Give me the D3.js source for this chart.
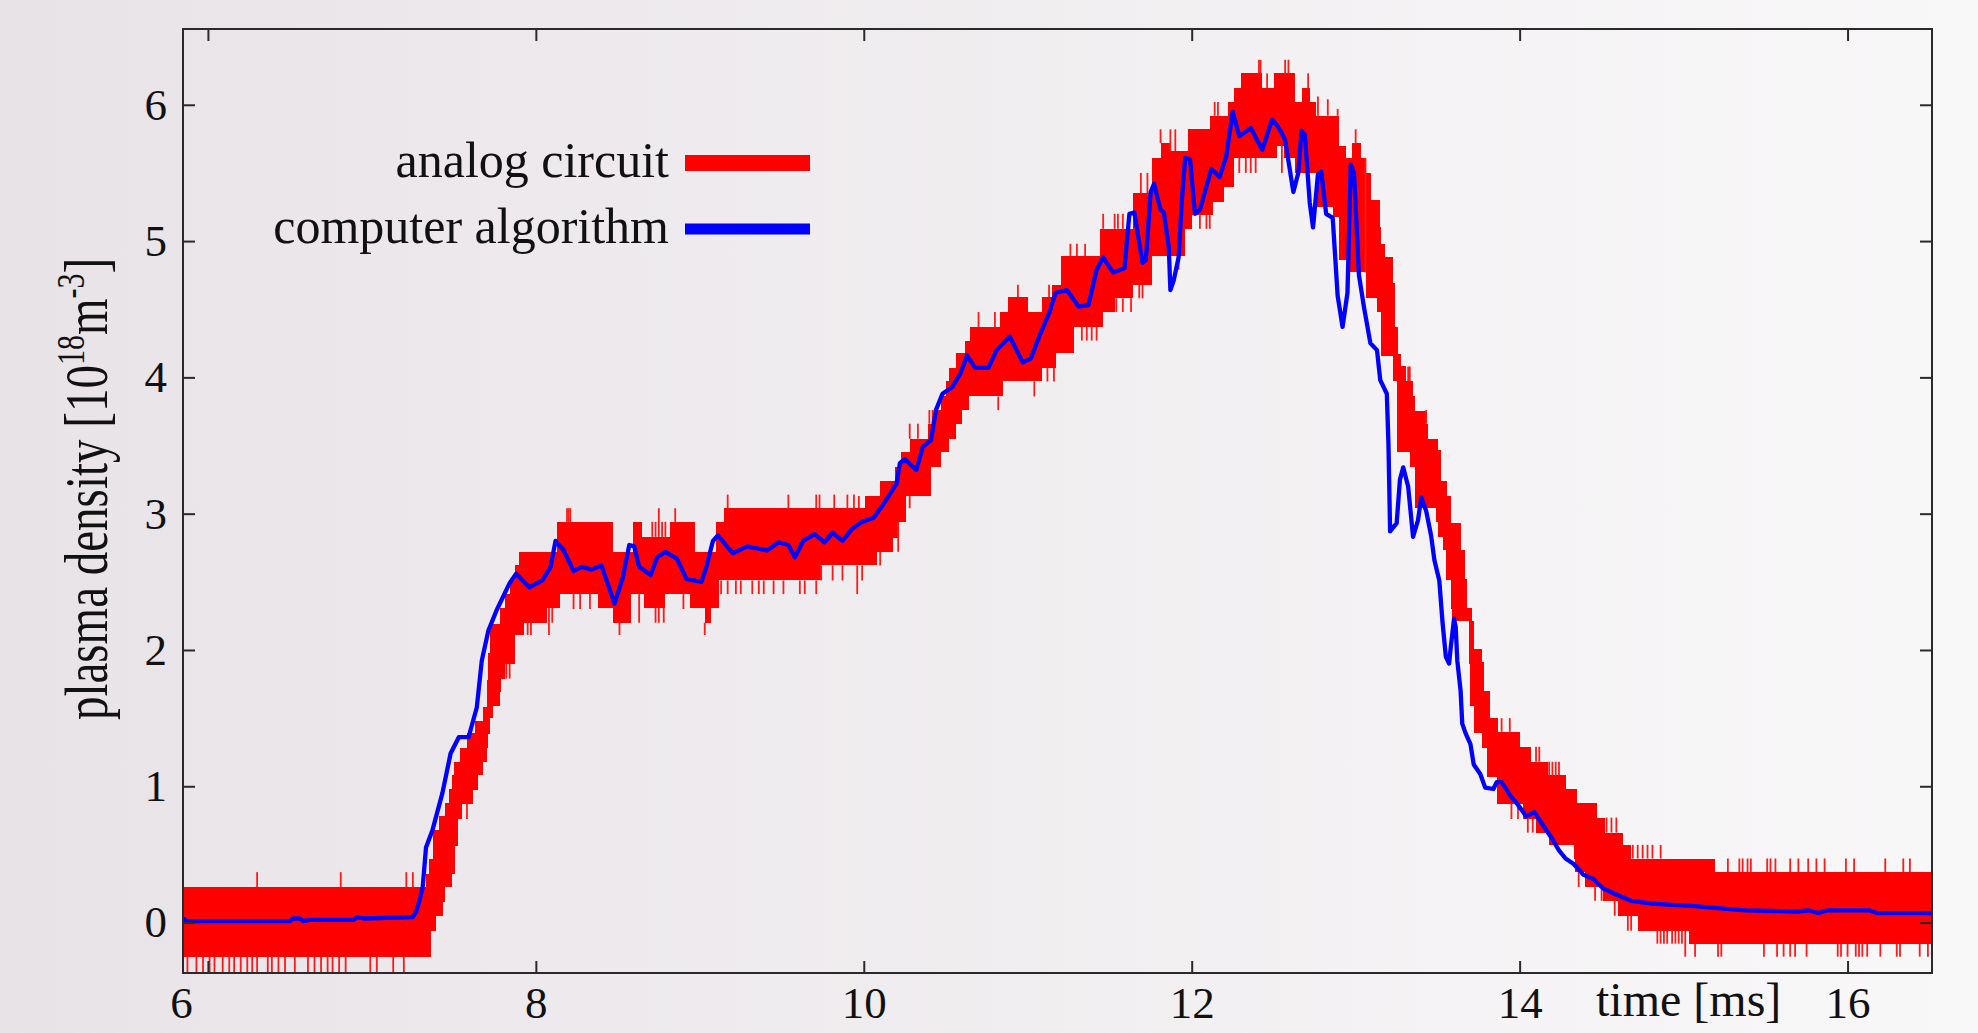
<!DOCTYPE html>
<html>
<head>
<meta charset="utf-8">
<script src="https://cdn.jsdelivr.net/npm/d3@7"></script>
<style>
  html, body { margin: 0; padding: 0; }
  body { width: 1978px; height: 1033px; overflow: hidden; }
  svg text { font-family: "Liberation Serif", "DejaVu Serif", serif; fill: #111; }
</style>
</head>
<body>
<svg id="chart" width="1978" height="1033"></svg>
<script>
// ---- data ----
const xTicks = [6, 8, 10, 12, 14, 16];
const yTicks = [0, 1, 2, 3, 4, 5, 6];
const seriesNames = ["analog circuit", "computer algorithm"];

// analog circuit: noisy signal, drawn as a stepped band (upper / lower envelope) plus single spikes
const analogUpper = [
  [5.85,0.26],[7.33,0.36],[7.35,0.47],[7.37,0.68],[7.41,0.78],[7.445,0.88],[7.47,0.98],[7.49,1.08],
  [7.50,1.18],[7.54,1.28],[7.58,1.39],[7.63,1.48],[7.68,1.58],[7.70,1.78],[7.71,1.98],[7.72,2.19],
  [7.78,2.31],[7.81,2.41],[7.84,2.51],[7.87,2.62],[7.90,2.72],[8.13,2.94],[8.47,2.72],[8.59,2.94],
  [8.65,2.83],[8.82,2.94],[8.97,2.72],[9.10,2.94],[9.15,3.04],[10.01,3.13],[10.10,3.24],[10.19,3.34],
  [10.23,3.45],[10.28,3.55],[10.39,3.66],[10.43,3.76],[10.47,3.86],[10.50,3.97],[10.52,4.07],[10.56,4.18],
  [10.62,4.27],[10.65,4.37],[10.83,4.48],[10.88,4.59],[11.00,4.48],[11.09,4.59],[11.15,4.68],[11.20,4.89],
  [11.44,5.09],[11.64,5.35],[11.76,5.61],[11.81,5.72],[11.87,5.66],[11.98,5.82],[12.11,5.92],[12.22,6.02],
  [12.26,6.12],[12.30,6.23],[12.43,6.12],[12.50,6.23],[12.63,6.02],[12.67,6.12],[12.72,6.02],[12.76,5.92],
  [12.90,5.70],[12.94,5.61],[12.98,5.72],[13.03,5.61],[13.065,5.50],[13.096,5.30],[13.146,5.10],[13.157,4.98],
  [13.177,4.88],[13.227,4.69],[13.238,4.37],[13.258,4.17],[13.278,4.08],[13.309,3.97],[13.35,3.86],[13.36,3.75],
  [13.43,3.66],[13.44,3.55],[13.50,3.47],[13.52,3.24],[13.56,3.13],[13.58,2.93],[13.64,2.73],[13.665,2.52],
  [13.68,2.31],[13.71,2.21],[13.72,2.01],[13.77,1.91],[13.78,1.70],[13.82,1.50],[13.87,1.40],[14.00,1.29],
  [14.07,1.18],[14.17,1.08],[14.28,0.98],[14.35,0.88],[14.47,0.77],[14.52,0.66],[14.63,0.57],[14.68,0.47],
  [15.19,0.37]
];
const analogLower = [
  [5.85,-0.25],[7.36,-0.06],[7.39,0.05],[7.435,0.15],[7.445,0.26],[7.486,0.36],[7.506,0.56],[7.526,0.76],
  [7.547,0.87],[7.618,0.97],[7.648,1.08],[7.679,1.18],[7.703,1.28],[7.709,1.38],[7.72,1.50],[7.74,1.59],
  [7.78,1.69],[7.79,1.79],[7.81,1.90],[7.87,2.11],[7.93,2.20],[8.07,2.31],[8.15,2.41],[8.38,2.31],
  [8.47,2.20],[8.58,2.41],[8.66,2.31],[8.79,2.41],[8.94,2.31],[9.03,2.20],[9.07,2.31],[9.12,2.51],
  [9.74,2.62],[10.08,2.72],[10.18,2.82],[10.21,2.94],[10.26,3.13],[10.41,3.34],[10.47,3.45],[10.52,3.55],
  [10.56,3.66],[10.60,3.76],[10.64,3.86],[10.85,3.97],[11.09,4.07],[11.17,4.18],[11.28,4.37],[11.46,4.48],
  [11.53,4.58],[11.64,4.68],[11.76,4.89],[11.96,5.09],[12.00,5.19],[12.13,5.29],[12.20,5.40],[12.26,5.61],
  [12.52,5.70],[12.56,5.61],[12.63,5.50],[12.76,5.25],[12.86,5.18],[12.90,4.86],[12.96,4.77],[13.065,4.58],
  [13.13,4.48],[13.157,4.16],[13.23,3.97],[13.25,3.45],[13.33,3.34],[13.36,3.04],[13.49,2.94],[13.50,2.83],
  [13.53,2.73],[13.55,2.51],[13.58,2.30],[13.59,2.21],[13.69,1.90],[13.70,1.59],[13.72,1.39],[13.77,1.28],
  [13.80,1.07],[13.86,0.87],[14.02,0.76],[14.10,0.66],[14.18,0.57],[14.33,0.47],[14.34,0.37],[14.40,0.26],
  [14.51,0.16],[14.60,0.05],[14.72,-0.06],[15.03,-0.155]
];
// single noise excursions beyond the band: [time, value]
const analogSpikes = [
  [5.875,-0.37],[5.93,-0.37],[5.97,-0.37],[6.01,-0.37],[6.04,-0.37],[6.09,-0.37],[6.13,-0.37],[6.16,-0.37],
  [6.20,-0.37],[6.24,-0.37],[6.27,-0.37],[6.30,-0.37],[6.365,-0.37],[6.39,-0.37],[6.43,-0.37],[6.47,-0.37],
  [6.53,-0.37],[6.61,-0.37],[6.65,-0.37],[6.69,-0.37],[6.73,-0.37],[6.76,-0.37],[6.80,-0.37],[6.84,-0.37],
  [6.99,-0.37],[7.03,-0.37],[7.13,-0.37],[7.195,-0.37],
  [6.30,0.37],[6.81,0.37],[7.21,0.37],[7.25,0.37],
  [7.58,0.76],[7.82,1.79],[7.84,1.79],[7.95,2.11],[7.97,2.11],[8.08,2.11],[8.10,2.20],
  [8.19,3.04],[8.20,3.04],[8.21,3.04],[8.23,2.30],[8.27,2.30],[8.33,2.30],[8.51,2.11],[8.63,2.20],
  [8.71,2.94],[8.73,2.94],[8.75,3.04],[8.77,2.94],[8.79,2.94],[8.73,2.20],[8.75,2.20],[8.78,2.20],
  [8.85,3.04],[8.90,2.30],[9.03,2.11],
  [9.13,2.41],[9.17,2.41],[9.22,2.41],[9.25,2.41],[9.32,2.41],[9.36,2.41],[9.39,2.41],[9.45,2.41],
  [9.51,2.41],[9.61,2.41],[9.64,2.41],[9.71,2.41],[9.74,2.51],[9.81,2.51],[9.87,2.51],[9.96,2.41],
  [9.99,2.51],[10.10,2.62],[10.21,2.72],
  [9.17,3.14],[9.54,3.14],[9.71,3.14],[9.73,3.14],[9.82,3.14],[9.90,3.14],[9.94,3.14],[9.97,3.13],
  [10.28,3.66],[10.33,3.66],[10.40,3.76],[10.42,3.76],[10.70,4.48],[10.80,4.48],[10.94,4.68],[11.13,4.68],
  [11.26,4.98],[11.30,4.98],[11.35,4.98],[11.46,5.20],[11.53,5.20],[11.55,5.20],[11.58,5.20],[11.69,5.50],
  [11.73,5.50],[11.81,5.82],[11.87,5.82],[11.90,5.82],[12.14,6.02],[12.16,6.02],[12.41,6.33],[12.42,6.33],
  [12.46,6.23],[12.57,6.33],[12.59,6.33],[12.71,6.23],[12.77,6.06],[12.83,6.04],[12.89,5.97],[13.00,5.82],
  [13.06,5.61],[13.32,4.08],[13.33,4.08],[13.43,3.76],
  [10.28,3.04],[10.82,3.76],[11.04,3.86],[11.12,3.97],[11.16,3.97],[11.33,4.27],[11.36,4.27],[11.39,4.27],
  [11.42,4.27],[11.54,4.48],[11.58,4.48],[11.63,4.48],[11.68,4.58],[11.70,4.58],[11.92,4.79],[12.05,5.09],
  [12.09,5.09],[12.11,5.09],[12.29,5.50],[12.33,5.50],[12.36,5.50],[12.39,5.50],[12.55,5.50],
  [13.89,1.50],[13.94,1.50],[14.10,1.29],[14.12,1.29],[14.18,1.18],[14.20,1.18],[14.22,1.18],[14.24,1.18],
  [14.53,0.77],[14.56,0.77],[14.59,0.77],[14.69,0.57],[14.72,0.57],[14.75,0.57],[14.78,0.57],[14.81,0.57],
  [14.86,0.57],
  [15.27,0.47],[15.34,0.47],[15.36,0.47],[15.39,0.47],[15.41,0.47],[15.51,0.47],[15.53,0.47],[15.56,0.47],
  [15.65,0.47],[15.70,0.47],[15.76,0.47],[15.81,0.47],[15.86,0.47],[15.99,0.47],[16.04,0.47],[16.23,0.47],
  [16.34,0.47],[16.38,0.47],
  [13.95,0.76],[13.99,0.76],[14.05,0.66],[14.08,0.66],[14.36,0.26],[14.46,0.16],[14.50,0.16],[14.58,0.05],
  [14.66,-0.06],[14.68,-0.06],
  [14.84,-0.155],[14.86,-0.155],[14.88,-0.155],[14.90,-0.155],[14.93,-0.155],[14.95,-0.155],[14.97,-0.155],
  [14.99,-0.155],
  [15.01,-0.25],[15.07,-0.25],[15.21,-0.25],[15.23,-0.25],[15.49,-0.25],[15.57,-0.25],[15.61,-0.25],
  [15.65,-0.25],[15.68,-0.25],[15.75,-0.25],[15.94,-0.25],[15.96,-0.25],[16.00,-0.25],[16.05,-0.25],
  [16.07,-0.25],[16.09,-0.25],[16.12,-0.25],[16.20,-0.25],[16.30,-0.25],[16.32,-0.25],[16.44,-0.25],
  [16.49,-0.25]
];

// computer algorithm
const computerSeries = [
  [5.85,0.03],[5.87,0.01],[6.50,0.01],[6.52,0.03],[6.56,0.03],[6.58,0.01],[6.62,0.02],[6.89,0.02],
  [6.91,0.04],[6.95,0.03],[7.25,0.04],[7.27,0.08],[7.29,0.16],[7.31,0.26],[7.33,0.55],[7.37,0.68],
  [7.43,0.95],[7.48,1.24],[7.53,1.36],[7.59,1.36],[7.64,1.58],[7.67,1.92],[7.71,2.14],[7.76,2.29],
  [7.84,2.49],[7.88,2.56],[7.96,2.46],[8.04,2.51],[8.09,2.61],[8.12,2.80],[8.17,2.73],[8.23,2.58],
  [8.28,2.61],[8.34,2.59],[8.40,2.62],[8.48,2.34],[8.53,2.53],[8.57,2.77],[8.60,2.76],[8.63,2.61],
  [8.70,2.55],[8.74,2.68],[8.79,2.72],[8.86,2.67],[8.92,2.52],[9.01,2.50],[9.04,2.61],[9.08,2.80],
  [9.11,2.84],[9.20,2.71],[9.29,2.76],[9.37,2.74],[9.41,2.73],[9.48,2.79],[9.54,2.77],[9.58,2.68],
  [9.63,2.80],[9.70,2.85],[9.76,2.79],[9.81,2.86],[9.87,2.80],[9.93,2.89],[9.99,2.94],[10.06,2.97],
  [10.12,3.07],[10.20,3.22],[10.22,3.37],[10.25,3.40],[10.32,3.32],[10.36,3.49],[10.41,3.54],[10.44,3.76],
  [10.48,3.88],[10.54,3.93],[10.59,4.03],[10.63,4.16],[10.68,4.07],[10.76,4.07],[10.81,4.20],[10.89,4.30],
  [10.97,4.11],[11.02,4.14],[11.07,4.30],[11.13,4.47],[11.17,4.62],[11.24,4.64],[11.31,4.52],[11.37,4.53],
  [11.42,4.79],[11.46,4.88],[11.52,4.77],[11.59,4.80],[11.62,5.20],[11.65,5.21],[11.70,4.84],[11.72,4.86],
  [11.75,5.36],[11.77,5.42],[11.81,5.23],[11.83,5.21],[11.86,4.96],[11.87,4.64],[11.89,4.71],[11.92,4.88],
  [11.94,5.30],[11.96,5.61],[11.99,5.60],[12.02,5.20],[12.05,5.23],[12.12,5.53],[12.17,5.47],[12.21,5.62],
  [12.25,5.95],[12.29,5.77],[12.36,5.83],[12.43,5.67],[12.49,5.89],[12.52,5.85],[12.55,5.79],[12.57,5.74],
  [12.62,5.36],[12.65,5.50],[12.67,5.81],[12.69,5.78],[12.72,5.28],[12.74,5.10],[12.77,5.49],[12.79,5.51],
  [12.82,5.20],[12.86,5.17],[12.89,4.60],[12.92,4.37],[12.95,4.62],[12.97,5.56],[12.99,5.50],[13.02,4.75],
  [13.05,4.52],[13.09,4.25],[13.13,4.20],[13.15,3.98],[13.19,3.88],[13.20,3.51],[13.21,2.87],[13.25,2.93],
  [13.27,3.25],[13.29,3.34],[13.32,3.20],[13.35,2.83],[13.38,2.95],[13.40,3.12],[13.43,3.02],[13.46,2.84],
  [13.48,2.66],[13.51,2.51],[13.53,2.20],[13.55,1.95],[13.57,1.90],[13.58,2.02],[13.60,2.23],[13.61,2.17],
  [13.62,1.92],[13.64,1.70],[13.65,1.46],[13.67,1.39],[13.70,1.31],[13.72,1.16],[13.76,1.09],[13.79,0.99],
  [13.84,0.98],[13.86,1.03],[13.89,1.03],[13.95,0.92],[13.98,0.88],[14.04,0.78],[14.09,0.81],[14.14,0.72],
  [14.19,0.63],[14.24,0.53],[14.28,0.47],[14.33,0.43],[14.39,0.35],[14.45,0.32],[14.51,0.25],[14.60,0.20],
  [14.68,0.16],[14.80,0.14],[14.93,0.13],[15.07,0.12],[15.26,0.10],[15.38,0.09],[15.70,0.08],[15.76,0.09],
  [15.82,0.07],[15.88,0.09],[16.13,0.09],[16.18,0.07],[16.52,0.07]
];

// ---- drawing ----
const W = 1978, H = 1033;
const plot = { left: 183, top: 29, right: 1932, bottom: 973 };

const svg = d3.select("#chart");

const grad = svg.append("defs").append("linearGradient")
    .attr("id", "bg").attr("x1", "0").attr("x2", "1").attr("y1", "0").attr("y2", "0");
grad.append("stop").attr("offset", "0").attr("stop-color", "#e8e3e7");
grad.append("stop").attr("offset", "1").attr("stop-color", "#f9f8f9");

svg.select("defs").append("clipPath").attr("id", "plotClip")
  .append("rect")
    .attr("x", plot.left).attr("y", plot.top)
    .attr("width", plot.right - plot.left).attr("height", plot.bottom - plot.top);

svg.append("rect").attr("width", W).attr("height", H).attr("fill", "url(#bg)");

const xScale = d3.scaleLinear().domain([5.848, 16.515]).range([plot.left, plot.right]);
const yScale = d3.scaleLinear().domain([-0.37, 6.556]).range([plot.bottom, plot.top]);

// step lookup for the envelopes
const bisect = d3.bisector(d => d[0]).right;
function stepAt(arr, t) {
  const i = Math.max(0, bisect(arr, t) - 1);
  return arr[i][1];
}

const bandTimes = Array.from(new Set(analogUpper.map(d => d[0]).concat(analogLower.map(d => d[0]))))
  .sort((a, b) => a - b);
bandTimes.push(xScale.domain()[1]);
const band = bandTimes.map(t => ({ t: t, hi: stepAt(analogUpper, t), lo: stepAt(analogLower, t) }));

const g = svg.append("g").attr("clip-path", "url(#plotClip)");

const area = d3.area()
    .x(d => xScale(d.t))
    .y0(d => yScale(d.lo))
    .y1(d => yScale(d.hi))
    .curve(d3.curveStepAfter);

g.append("path")
    .datum(band)
    .attr("fill", "#ff0000")
    .attr("shape-rendering", "crispEdges")
    .attr("d", area);

g.selectAll("line.spike")
  .data(analogSpikes)
  .join("line")
    .attr("class", "spike")
    .attr("x1", d => xScale(d[0]))
    .attr("x2", d => xScale(d[0]))
    .attr("y1", d => {
      const hi = stepAt(analogUpper, d[0]), lo = stepAt(analogLower, d[0]);
      return yScale(d[1] > hi ? hi : lo);
    })
    .attr("y2", d => yScale(d[1]))
    .attr("stroke", "#ff1a1a")
    .attr("stroke-width", 1.8);

const line = d3.line()
    .x(d => xScale(d[0]))
    .y(d => yScale(d[1]));

g.append("path")
    .datum(computerSeries)
    .attr("fill", "none")
    .attr("stroke", "#0000ff")
    .attr("stroke-width", 4.3)
    .attr("stroke-linejoin", "round")
    .attr("d", line);

// frame and inward ticks on all four sides
svg.append("rect")
    .attr("x", plot.left).attr("y", plot.top)
    .attr("width", plot.right - plot.left).attr("height", plot.bottom - plot.top)
    .attr("fill", "none").attr("stroke", "#2a2a2a").attr("stroke-width", 2);

const tickLen = 12;
const xAxisBottom = d3.axisBottom(xScale).tickValues(xTicks).tickSize(-tickLen).tickPadding(13)
    .tickFormat(d3.format("d"));
const xAxisTop = d3.axisTop(xScale).tickValues(xTicks).tickSize(-tickLen).tickFormat("");
const yAxisLeft = d3.axisLeft(yScale).tickValues(yTicks).tickSize(-tickLen).tickPadding(16)
    .tickFormat(d3.format("d"));
const yAxisRight = d3.axisRight(yScale).tickValues(yTicks).tickSize(-tickLen).tickFormat("");

function styleAxis(sel) {
  sel.select(".domain").remove();
  sel.selectAll(".tick line").attr("stroke", "#2a2a2a").attr("stroke-width", 2);
  sel.selectAll(".tick text")
    .attr("font-family", "Liberation Serif, DejaVu Serif, serif")
    .attr("font-size", 45).attr("fill", "#111");
}

const gx = svg.append("g").attr("transform", `translate(0,${plot.bottom})`).call(xAxisBottom).call(styleAxis);
gx.selectAll(".tick text").attr("dy", "0.71em");
// the "6" label sits at the left edge of the frame in the reference
gx.selectAll(".tick").filter(d => d === 6).select("text")
    .attr("x", xScale(xScale.domain()[0]) - xScale(6) - 2);

svg.append("g").attr("transform", `translate(0,${plot.top})`).call(xAxisTop).call(styleAxis);
svg.append("g").attr("transform", `translate(${plot.left},0)`).call(yAxisLeft).call(styleAxis);
svg.append("g").attr("transform", `translate(${plot.right},0)`).call(yAxisRight).call(styleAxis);

// axis titles
svg.append("text")
    .attr("x", 1596).attr("y", 1016)
    .attr("font-size", 48)
    .text("time [ms]");

const yl = svg.append("text")
    .attr("transform", "translate(107,489) rotate(-90) scale(1,1.3)")
    .attr("text-anchor", "middle")
    .attr("font-size", 47);
yl.append("tspan").text("plasma density [10");
yl.append("tspan").attr("dy", -18).attr("font-size", 30).text("18");
yl.append("tspan").attr("dy", 18).text("m");
yl.append("tspan").attr("dy", -18).attr("font-size", 30).text("-3");
yl.append("tspan").attr("dy", 18).text("]");

// legend
const legendColors = ["#ff0000", "#0000ff"];
const legendWidths = [16, 11];
const legend = svg.append("g");
seriesNames.forEach((name, i) => {
  const yBase = 177 + i * 66;
  legend.append("text")
      .attr("x", 669).attr("y", yBase)
      .attr("text-anchor", "end")
      .attr("font-size", 50)
      .text(name);
  legend.append("line")
      .attr("x1", 685).attr("x2", 810)
      .attr("y1", yBase - 14).attr("y2", yBase - 14)
      .attr("stroke", legendColors[i])
      .attr("stroke-width", legendWidths[i]);
});
</script>
</body>
</html>
